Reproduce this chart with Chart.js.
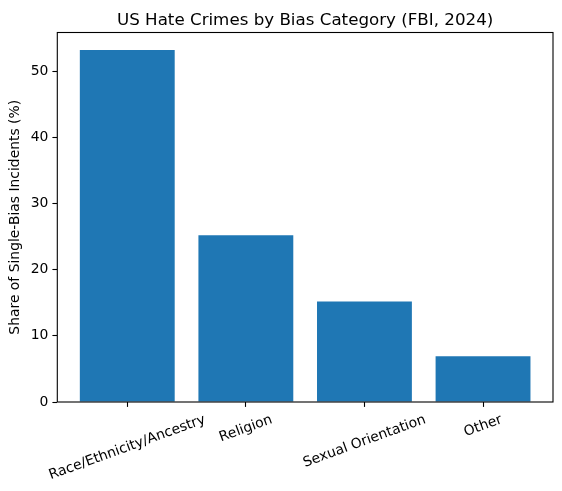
<!DOCTYPE html>
<html lang="en">
  <head>
    <meta charset="UTF-8" />
    <title>US Hate Crimes by Bias Category</title>
    <style>
      body {
        margin: 0;
        padding: 0;
        background-color: #fff;
      }

      .chart-container {
        width: 562px;
        height: 491px;
        position: relative;
      }
    </style>
  </head>
  <body>
    <div class="chart-container">
      <canvas id="biasChart"></canvas>
    </div>

    <script src="https://cdn.jsdelivr.net/npm/chart.js"></script>
    <script>
      const categories = [
        "Race/Ethnicity/Ancestry",
        "Religion",
        "Sexual Orientation",
        "Other",
      ];
      const shares = [53.2, 25.2, 15.2, 6.9];
      const yTicks = [0, 10, 20, 30, 40, 50];

      const chartTitle = "US Hate Crimes by Bias Category (FBI, 2024)";
      const yTitle = "Share of Single-Bias Incidents (%)";

      const FONT = '"DejaVu Sans", sans-serif';
      const TICK_PX = 13.9;

      // matplotlib-ish padding around the bars
      const xMin = -0.4 - 0.19;
      const xMax = categories.length - 1 + 0.4 + 0.19;
      const yMax = Math.max(...shares) * 1.05;

      // title, frame and rotated centered labels (Chart.js right-aligns rotated ticks)
      const decorPlugin = {
        id: "decor",
        afterDraw(chart) {
          const ctx = chart.ctx;
          const area = chart.chartArea;
          const xs = chart.scales.x;
          ctx.save();

          ctx.strokeStyle = "#000";
          ctx.lineWidth = 1.1;
          ctx.strokeRect(area.left, area.top, area.right - area.left, area.bottom - area.top);

          ctx.fillStyle = "#000";
          ctx.font = "16.7px " + FONT;
          ctx.textAlign = "center";
          ctx.textBaseline = "alphabetic";
          ctx.fillText(chartTitle, (area.left + area.right) / 2, 24.5);

          const a = (20 * Math.PI) / 180;
          ctx.font = TICK_PX + "px " + FONT;
          ctx.textBaseline = "middle";
          categories.forEach((label, i) => {
            const w = ctx.measureText(label).width;
            const h = TICK_PX * 1.15;
            const boxH = w * Math.sin(a) + h * Math.cos(a);
            const cx = xs.getPixelForValue(i);
            const cy = area.bottom + 4.9 + 4.9 + boxH / 2;
            ctx.save();
            ctx.translate(cx, cy);
            ctx.rotate(-a);
            ctx.fillText(label, 0, 0);
            ctx.restore();
          });

          ctx.restore();
        },
      };

      document.addEventListener("DOMContentLoaded", function () {
        const ctx = document.getElementById("biasChart").getContext("2d");

        new Chart(ctx, {
          type: "bar",
          data: {
            datasets: [
              {
                data: shares.map((v, i) => ({ x: i, y: v })),
                backgroundColor: "#1f77b4",
                borderWidth: 0,
                categoryPercentage: 1,
                barPercentage: 0.8,
              },
            ],
          },
          options: {
            responsive: true,
            maintainAspectRatio: false,
            animation: false,
            layout: {
              padding: { left: 0, right: 9, top: 32.5, bottom: 0 },
            },
            scales: {
              x: {
                type: "linear",
                min: xMin,
                max: xMax,
                offset: false,
                afterBuildTicks: (scale) => {
                  scale.ticks = categories.map((c, i) => ({ value: i }));
                },
                afterFit: (scale) => {
                  scale.height = 89;
                },
                ticks: { display: false },
                grid: {
                  offset: false,
                  drawOnChartArea: false,
                  drawTicks: true,
                  tickLength: 4.9,
                  tickColor: "#000",
                  tickWidth: 1.1,
                },
                border: { display: false },
              },
              y: {
                min: 0,
                max: yMax,
                afterBuildTicks: (scale) => {
                  scale.ticks = yTicks.map((v) => ({ value: v }));
                },
                afterFit: (scale) => {
                  scale.width = 57.3;
                },
                ticks: {
                  color: "#000",
                  padding: 4,
                  font: { family: FONT, size: TICK_PX },
                },
                grid: {
                  drawOnChartArea: false,
                  drawTicks: true,
                  tickLength: 4.9,
                  tickColor: "#000",
                  tickWidth: 1.1,
                },
                border: { display: false },
                title: {
                  display: true,
                  text: yTitle,
                  color: "#000",
                  padding: { top: 7, bottom: 0 },
                  font: { family: FONT, size: TICK_PX },
                },
              },
            },
            plugins: {
              legend: { display: false },
              tooltip: { enabled: false },
              title: { display: false },
            },
          },
          plugins: [decorPlugin],
        });
      });
    </script>
  </body>
</html>
